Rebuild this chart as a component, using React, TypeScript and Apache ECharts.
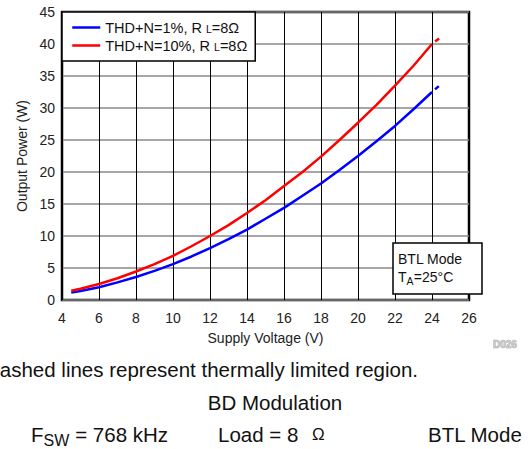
import React, { useEffect, useRef } from "react";
import * as echarts from "echarts";

const voltage = [4.5, 5, 6, 7, 8, 9, 10, 11, 12, 13, 14, 15, 16, 17, 18, 19, 20, 21, 22, 23, 24];
const thd1 = [1.15, 1.4, 2.0, 2.75, 3.6, 4.55, 5.6, 6.8, 8.1, 9.5, 11.0, 12.7, 14.4, 16.3, 18.2, 20.3, 22.5, 24.8, 27.2, 29.8, 32.5];
const thd10 = [1.45, 1.75, 2.5, 3.4, 4.45, 5.6, 6.9, 8.4, 10.0, 11.7, 13.6, 15.6, 17.8, 20.0, 22.4, 25.0, 27.7, 30.5, 33.5, 36.6, 40.0];
const thermalVoltage = [24, 24.4];
const thd1Thermal = [32.5, 33.5];
const thd10Thermal = [40.0, 40.9];
const seriesNames = ["THD+N=1%", "THD+N=10%"];
const xTicks = { min: 4, max: 26, interval: 2 };
const yTicks = { min: 0, max: 45, interval: 5 };

const FONT = "'Liberation Sans', Arial, Helvetica, sans-serif";

export default function App() {
  const ref = useRef<HTMLDivElement>(null);
  useEffect(() => {
    if (!ref.current) return;
    const chart = echarts.init(ref.current, undefined, { renderer: "svg" });
    const pair = (xs: number[], ys: number[]) => xs.map((x, i) => [x, ys[i]]);
    const txt = (text: string, x: number, y: number, size: number, z = 101) => ({
      type: "text",
      z,
      x,
      y,
      style: { text, font: `${size}px ${FONT}`, fill: "#111", verticalAlign: "middle" },
    });
    chart.setOption({
      animation: false,
      backgroundColor: "#fff",
      textStyle: { fontFamily: FONT },
      grid: {
        left: 62,
        top: 12,
        right: 63,
        bottom: 149,
        show: true,
        borderColor: "#000",
        borderWidth: 2.5,
        backgroundColor: "transparent",
      },
      legend: {
        left: 62,
        top: 12,
        orient: "vertical",
        backgroundColor: "#fff",
        borderColor: "#000",
        borderWidth: 1.5,
        borderRadius: 0,
        padding: [8, 8, 8, 9],
        itemWidth: 28,
        itemHeight: 14,
        itemGap: 3,
        data: seriesNames,
        itemStyle: { color: "transparent", borderWidth: 0, opacity: 0 },
        lineStyle: { width: 2.5 },
        formatter: (name: string) => name + ", R {sub|L}=8Ω",
        textStyle: {
          fontFamily: FONT,
          fontSize: 14.5,
          color: "#111",
          lineHeight: 14,
          rich: {
            sub: { fontFamily: FONT, fontSize: 10.5, color: "#111", verticalAlign: "bottom", lineHeight: 4 },
          },
        },
      },
      xAxis: {
        type: "value",
        min: xTicks.min,
        max: xTicks.max,
        interval: xTicks.interval,
        axisLine: { show: false },
        axisTick: { show: false },
        axisLabel: { fontSize: 14, color: "#222", margin: 11, fontFamily: FONT },
        splitLine: { show: true, lineStyle: { color: "#000", width: 1 } },
        name: "Supply Voltage (V)",
        nameLocation: "middle",
        nameGap: 31,
        nameTextStyle: { fontSize: 14, color: "#222", fontFamily: FONT },
      },
      yAxis: {
        type: "value",
        min: yTicks.min,
        max: yTicks.max,
        interval: yTicks.interval,
        axisLine: { show: false },
        axisTick: { show: false },
        axisLabel: { fontSize: 14, color: "#222", margin: 7, fontFamily: FONT },
        splitLine: { show: true, lineStyle: { color: "#888", width: 1.5 } },
        name: "Output Power (W)",
        nameLocation: "middle",
        nameGap: 27,
        nameTextStyle: { fontSize: 14, color: "#222", fontFamily: FONT },
      },
      series: [
        {
          name: seriesNames[0],
          type: "line",
          symbol: "none",
          color: "#0000ff",
          lineStyle: { color: "#0000ff", width: 2.5 },
          data: pair(voltage, thd1),
          z: 3,
        },
        {
          name: seriesNames[1],
          type: "line",
          symbol: "none",
          color: "#ff0000",
          lineStyle: { color: "#ff0000", width: 2.5 },
          data: pair(voltage, thd10),
          z: 3,
        },
        {
          name: seriesNames[0] + " thermal",
          type: "line",
          symbol: "none",
          lineStyle: { color: "#0000ff", width: 2.5, type: [5, 4], dashOffset: 5 },
          data: pair(thermalVoltage, thd1Thermal),
          z: 3,
        },
        {
          name: seriesNames[1] + " thermal",
          type: "line",
          symbol: "none",
          lineStyle: { color: "#ff0000", width: 2.5, type: [5, 4], dashOffset: 5 },
          data: pair(thermalVoltage, thd10Thermal),
          z: 3,
        },
      ],
      graphic: [
        {
          type: "rect",
          z: 100,
          shape: { x: 393, y: 243, width: 89, height: 51 },
          style: { fill: "#fff", stroke: "#000", lineWidth: 1.5 },
        },
        txt("BTL Mode", 398, 259, 14),
        txt("T", 398, 277, 14),
        txt("A", 406.6, 281, 10.5),
        txt("=25°C", 413.8, 277, 14),
        {
          type: "text",
          z: 101,
          x: 493,
          y: 344,
          style: {
            text: "D026",
            font: `bold 10px ${FONT}`,
            fill: "#c8c8c8",
            stroke: "#999",
            lineWidth: 0.6,
            verticalAlign: "middle",
          },
        },
        txt("Dashed lines represent thermally limited region.", -15, 369, 20.5, 1),
        {
          type: "text",
          x: 275,
          y: 402,
          style: { text: "BD Modulation", font: `20.5px ${FONT}`, fill: "#111", align: "center", verticalAlign: "middle" },
        },
        txt("F", 31, 434, 20.5, 1),
        txt("SW", 43.5, 440, 16, 1),
        txt(" = 768 kHz", 69.5, 434, 20.5, 1),
        txt("Load = 8", 218, 434, 20.5, 1),
        txt("Ω", 312, 434, 17, 1),
        txt("BTL Mode", 428, 434, 20.5, 1),
      ],
    });
    return () => chart.dispose();
  }, []);
  return <div ref={ref} style={{ position: "absolute", left: 0, top: 0, width: 532, height: 449 }} />;
}
